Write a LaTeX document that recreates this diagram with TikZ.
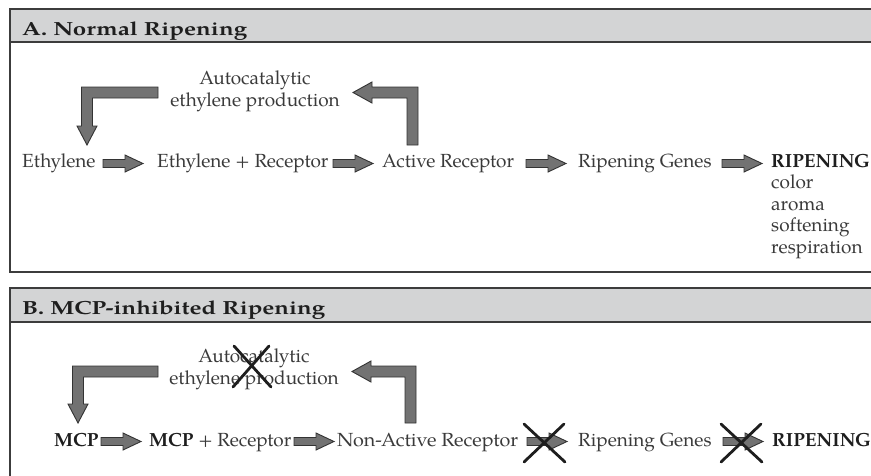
\documentclass[tikz,border=0pt]{standalone}
\usepackage{fontspec}
\setmainfont{TeX Gyre Pagella}
\usepackage{graphicx}
\definecolor{txtc}{HTML}{3A3A3A}
\definecolor{boldc}{HTML}{1E1E1E}
\definecolor{arrfill}{HTML}{727272}
\definecolor{arrline}{HTML}{333333}
\definecolor{headfill}{HTML}{D3D4D5}
\definecolor{framec}{HTML}{3C3C3C}
\definecolor{xc}{HTML}{1E1E1E}
\tikzset{
  txt/.style={inner sep=0pt, anchor=base west, text=txtc, font=\fontsize{19}{22}\selectfont},
  btxt/.style={txt, text=boldc, font=\fontsize{19}{22}\selectfont\bfseries},
  ctxt/.style={inner sep=0pt, anchor=base, text=txtc, font=\fontsize{19}{22}\selectfont},
  ttl/.style={inner sep=0pt, anchor=base west, text=boldc, font=\fontsize{19}{22}\selectfont\bfseries},
  blk/.style={fill=arrfill, draw=arrline, line width=0.9pt, line join=miter},
  frame/.style={draw=framec, line width=1.4pt},
  cross/.style={draw=xc, line width=2.8pt, line cap=round},
  pics/sarr/.style={code={\draw[blk] (-20,-4) -- (2,-4) -- (2,-8.5) -- (20,0) -- (2,8.5) -- (2,4) -- (-20,4) -- cycle;}}
}
\begin{document}
\begin{tikzpicture}[x=1pt,y=-1pt]
\useasboundingbox (0,0) rectangle (871,475);
\clip (0,0) rectangle (871,475);
% ---------- Panel A ----------
\fill[headfill] (10,9) rectangle (900,42);
\draw[frame] (900,9) -- (10,9) -- (10,272) -- (900,272);
\draw[frame] (10,42) -- (900,42);
\node[ttl] (tA) at (22,35) {\resizebox{225pt}{\height}{A. Normal Ripening}};

\node[ctxt] (autoA1) at (255,84) {Autocatalytic};
\node[ctxt] (autoA2) at (255,106) {ethylene production};

\node[txt] (eth) at (22,167) {Ethylene};
\node[txt] (er) at (157,167) {Ethylene + Receptor};
\node[txt] (ar) at (382,167) {Active Receptor};
\node[txt] (rg) at (578,167) {Ripening Genes};
\node[btxt] (rip) at (771,167) {RIPENING};
\node[txt] (c1) at (771,188.5) {color};
\node[txt] (c2) at (771,210) {aroma};
\node[txt] (c3) at (771,231.5) {softening};
\node[txt] (c4) at (771,253) {respiration};

\pic at (123,163.5) {sarr};
\pic at (353,163.5) {sarr};
\pic at (546,163.5) {sarr};
\pic at (742,163.5) {sarr};

% loop arrows A
\draw[blk] (158,87) -- (81.5,87) -- (81.5,126) -- (77,126) -- (87,145) -- (97,126) -- (92.5,126) -- (92.5,98) -- (158,98) -- cycle;
\draw[blk] (407,145) -- (418,145) -- (418,87) -- (372,87) -- (372,82) -- (353,92.5) -- (372,103) -- (372,98) -- (407,98) -- cycle;

% ---------- Panel B ----------
\fill[headfill] (10,288) rectangle (900,322);
\draw[frame] (900,288) -- (10,288) -- (10,500);
\draw[frame] (10,322) -- (900,322);
\node[ttl] (tB) at (22,314) {\resizebox{303pt}{\height}{B. MCP-inhibited Ripening}};

\node[ctxt] (autoB1) at (254,362) {Autocatalytic};
\node[ctxt] (autoB2) at (254,384) {ethylene production};

\node[btxt] (mcp) at (54,446) {MCP};
\node[txt] (mr) at (149,446) {\textcolor{boldc}{\bfseries MCP} + Receptor};
\node[txt] (nar) at (337,446) {\resizebox{181pt}{\height}{Non-Active Receptor}};
\node[txt] (rgB) at (578,446) {Ripening Genes};
\node[btxt] (ripB) at (772,446) {RIPENING};

\pic at (121,441.5) {sarr};
\pic at (314,441.5) {sarr};
\pic at (547,441.5) {sarr};
\pic at (743,441.5) {sarr};

% loop arrows B
\draw[blk] (158,366) -- (72.5,366) -- (72.5,404) -- (68,404) -- (78,423) -- (88,404) -- (83.5,404) -- (83.5,377) -- (158,377) -- cycle;
\draw[blk] (405,423) -- (416,423) -- (416,366) -- (371,366) -- (371,361) -- (352,371.5) -- (371,382) -- (371,377) -- (405,377) -- cycle;

% crosses
\draw[cross] (234,346) -- (271,387);
\draw[cross] (269,346) -- (233,387);
\draw[cross] (524,424) -- (565,462);
\draw[cross] (564,424) -- (524,462);
\draw[cross] (721,424) -- (762,462);
\draw[cross] (761,424) -- (721,462);
\end{tikzpicture}
\end{document}
